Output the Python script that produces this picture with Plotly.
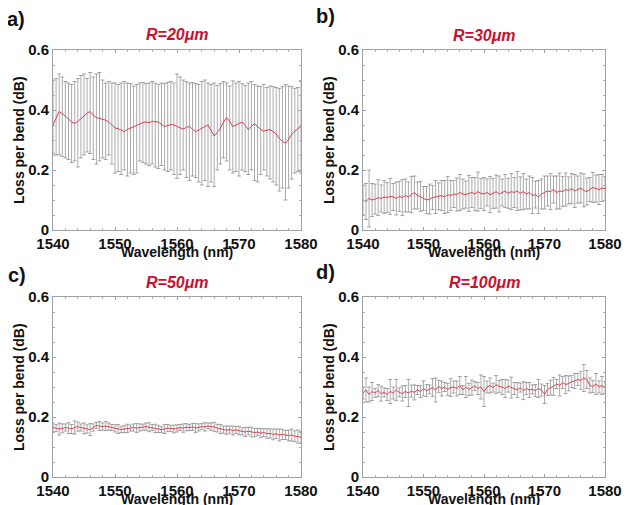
import plotly.graph_objects as go
from plotly.subplots import make_subplots

# wavelength grid (nm), one error bar every 0.5 nm
wavelength = [1540 + 0.5 * i for i in range(81)]

# R = 20 um : mean loss and upper / lower bounds of the error bars
mean_a = [0.350, 0.375, 0.395, 0.388, 0.380, 0.370, 0.360, 0.355, 0.362, 0.370,
          0.380, 0.390, 0.395, 0.383, 0.375, 0.372, 0.370, 0.366, 0.360, 0.350,
          0.340, 0.338, 0.332, 0.328, 0.335, 0.340, 0.345, 0.350, 0.355, 0.358,
          0.360, 0.358, 0.362, 0.360, 0.360, 0.352, 0.345, 0.348, 0.352, 0.350,
          0.345, 0.340, 0.336, 0.342, 0.345, 0.336, 0.328, 0.333, 0.340, 0.345,
          0.350, 0.330, 0.313, 0.325, 0.340, 0.360, 0.375, 0.362, 0.345, 0.350,
          0.355, 0.360, 0.348, 0.335, 0.345, 0.355, 0.345, 0.335, 0.330, 0.333,
          0.335, 0.328, 0.320, 0.305, 0.295, 0.289, 0.302, 0.320, 0.330, 0.338,
          0.345]
upper_a = [0.500, 0.505, 0.520, 0.510, 0.495, 0.490, 0.485, 0.495, 0.505, 0.515,
           0.520, 0.505, 0.525, 0.510, 0.520, 0.525, 0.500, 0.490, 0.495, 0.490,
           0.490, 0.485, 0.490, 0.495, 0.490, 0.488, 0.480, 0.485, 0.490, 0.492,
           0.488, 0.490, 0.495, 0.490, 0.485, 0.490, 0.488, 0.492, 0.495, 0.490,
           0.520, 0.510, 0.500, 0.495, 0.490, 0.492, 0.488, 0.485, 0.495, 0.500,
           0.490, 0.485, 0.490, 0.482, 0.488, 0.495, 0.490, 0.480, 0.497, 0.490,
           0.495, 0.488, 0.482, 0.490, 0.495, 0.485, 0.480, 0.478, 0.485, 0.475,
           0.480, 0.478, 0.475, 0.472, 0.478, 0.485, 0.480, 0.478, 0.472, 0.475,
           0.495]
lower_a = [0.255, 0.250, 0.250, 0.245, 0.240, 0.235, 0.225, 0.230, 0.210, 0.240,
           0.250, 0.260, 0.255, 0.235, 0.220, 0.230, 0.240, 0.235, 0.250, 0.220,
           0.190, 0.195, 0.185, 0.200, 0.180, 0.190, 0.185, 0.190, 0.230, 0.225,
           0.220, 0.215, 0.220, 0.210, 0.205, 0.215, 0.200, 0.195, 0.200, 0.185,
           0.172, 0.185, 0.200, 0.175, 0.165, 0.180, 0.175, 0.160, 0.150, 0.165,
           0.145, 0.160, 0.145, 0.200, 0.220, 0.240, 0.230, 0.200, 0.190, 0.195,
           0.180, 0.200, 0.195, 0.185, 0.200, 0.165, 0.160, 0.185, 0.200, 0.180,
           0.170, 0.160, 0.150, 0.130, 0.140, 0.100, 0.140, 0.170, 0.190, 0.195,
           0.190]

# R = 30 um
mean_b = [0.100, 0.095, 0.105, 0.100, 0.103, 0.108, 0.105, 0.110, 0.108, 0.112,
          0.110, 0.105, 0.112, 0.108, 0.115, 0.110, 0.118, 0.125, 0.115, 0.112,
          0.105, 0.100, 0.103, 0.108, 0.110, 0.112, 0.115, 0.110, 0.118, 0.115,
          0.120, 0.118, 0.125, 0.120, 0.118, 0.122, 0.125, 0.120, 0.128, 0.122,
          0.120, 0.125, 0.118, 0.122, 0.128, 0.120, 0.125, 0.130, 0.122, 0.128,
          0.125, 0.130, 0.122, 0.128, 0.120, 0.125, 0.115, 0.118, 0.110, 0.120,
          0.125, 0.130, 0.128, 0.135, 0.125, 0.130, 0.128, 0.135, 0.132, 0.138,
          0.130, 0.135, 0.140, 0.132, 0.128, 0.135, 0.142, 0.138, 0.135, 0.140,
          0.138]
err_b = [0.050, 0.060, 0.095, 0.055, 0.050, 0.060, 0.045, 0.055, 0.050, 0.060,
         0.045, 0.055, 0.050, 0.060, 0.055, 0.050, 0.060, 0.055, 0.045, 0.050,
         0.040, 0.045, 0.050, 0.040, 0.055, 0.045, 0.050, 0.055, 0.060, 0.050,
         0.045, 0.055, 0.060, 0.050, 0.045, 0.060, 0.050, 0.055, 0.065, 0.050,
         0.055, 0.045, 0.060, 0.050, 0.055, 0.060, 0.045, 0.055, 0.050, 0.060,
         0.050, 0.065, 0.055, 0.060, 0.050, 0.055, 0.060, 0.045, 0.055, 0.050,
         0.055, 0.050, 0.060, 0.045, 0.055, 0.060, 0.050, 0.055, 0.045, 0.050,
         0.055, 0.045, 0.050, 0.055, 0.045, 0.040, 0.050, 0.045, 0.050, 0.045,
         0.040]

# R = 50 um
mean_c = [0.165, 0.163, 0.160, 0.162, 0.165, 0.163, 0.160, 0.165, 0.168, 0.165,
          0.162, 0.160, 0.158, 0.165, 0.172, 0.170, 0.168, 0.170, 0.168, 0.165,
          0.162, 0.160, 0.158, 0.160, 0.162, 0.163, 0.165, 0.163, 0.165, 0.166,
          0.168, 0.166, 0.165, 0.162, 0.160, 0.158, 0.160, 0.163, 0.162, 0.160,
          0.162, 0.165, 0.163, 0.166, 0.165, 0.167, 0.163, 0.165, 0.168, 0.167,
          0.170, 0.168, 0.167, 0.163, 0.160, 0.158, 0.156, 0.158, 0.155, 0.157,
          0.155, 0.152, 0.150, 0.153, 0.150, 0.148, 0.150, 0.146, 0.148, 0.145,
          0.145, 0.142, 0.144, 0.140, 0.142, 0.140, 0.138, 0.140, 0.136, 0.135,
          0.132]
err_c = [0.015, 0.012, 0.020, 0.015, 0.012, 0.018, 0.015, 0.022, 0.015, 0.012,
         0.018, 0.014, 0.020, 0.012, 0.010, 0.015, 0.012, 0.015, 0.012, 0.010,
         0.012, 0.015, 0.010, 0.012, 0.014, 0.010, 0.012, 0.015, 0.012, 0.010,
         0.012, 0.015, 0.010, 0.014, 0.012, 0.010, 0.015, 0.012, 0.010, 0.013,
         0.012, 0.010, 0.014, 0.012, 0.010, 0.012, 0.015, 0.012, 0.010, 0.014,
         0.010, 0.012, 0.015, 0.013, 0.015, 0.012, 0.014, 0.012, 0.015, 0.012,
         0.014, 0.012, 0.015, 0.013, 0.016, 0.014, 0.012, 0.015, 0.013, 0.016,
         0.015, 0.018, 0.016, 0.020, 0.017, 0.015, 0.018, 0.020, 0.018, 0.022,
         0.020]

# R = 100 um
mean_d = [0.280, 0.290, 0.275, 0.285, 0.280, 0.288, 0.278, 0.282, 0.275, 0.285,
          0.280, 0.290, 0.282, 0.278, 0.285, 0.280, 0.286, 0.282, 0.290, 0.285,
          0.295, 0.288, 0.292, 0.298, 0.290, 0.302, 0.295, 0.300, 0.292, 0.298,
          0.300, 0.295, 0.305, 0.290, 0.300, 0.292, 0.298, 0.303, 0.295, 0.300,
          0.285, 0.300, 0.305, 0.298, 0.308, 0.302, 0.300, 0.295, 0.303, 0.298,
          0.295, 0.290, 0.298, 0.288, 0.295, 0.290, 0.292, 0.288, 0.295, 0.290,
          0.275, 0.292, 0.298, 0.302, 0.310, 0.305, 0.315, 0.308, 0.312, 0.318,
          0.320, 0.325, 0.322, 0.330, 0.325, 0.305, 0.302, 0.310, 0.300, 0.305,
          0.298]
err_d = [0.020, 0.040, 0.025, 0.030, 0.015, 0.020, 0.025, 0.015, 0.020, 0.040,
         0.020, 0.035, 0.015, 0.025, 0.020, 0.045, 0.020, 0.025, 0.015, 0.020,
         0.025, 0.020, 0.015, 0.030, 0.040, 0.020, 0.025, 0.015, 0.020, 0.030,
         0.020, 0.025, 0.030, 0.015, 0.035, 0.020, 0.025, 0.015, 0.020, 0.040,
         0.050, 0.020, 0.025, 0.015, 0.030, 0.020, 0.025, 0.030, 0.020, 0.035,
         0.020, 0.025, 0.015, 0.030, 0.020, 0.025, 0.015, 0.020, 0.030, 0.020,
         0.030, 0.020, 0.025, 0.030, 0.015, 0.035, 0.020, 0.030, 0.025, 0.020,
         0.025, 0.020, 0.030, 0.045, 0.030, 0.025, 0.020, 0.035, 0.020, 0.030,
         0.020]

panel_titles = ["R=20μm", "R=30μm", "R=50μm", "R=100μm"]
panel_letters = ["a)", "b)", "c)", "d)"]
x_ticks = [1540, 1550, 1560, 1570, 1580]
y_ticks = [0, 0.2, 0.4, 0.6]
y_tick_text = ["0", "0.2", "0.4", "0.6"]

OFF = 8  # the page body adds an 8px margin, so shift everything back by it
W, H = 630 - OFF, 505 - OFF
FONT = "Liberation Sans, Arial, sans-serif"
RED = "#c8102e"

# plot-area boxes in screen pixels: (left, right, top, bottom)
# (right column a little narrower so its last tick label stays on screen)
boxes = [(53, 301, 50, 230), (363, 605, 50, 230),
         (53, 301, 297, 477), (363, 605, 297, 477)]
# (letter x, letter y, title y) in screen pixels
label_pos = [(5, 19, 34), (314, 16, 35), (6, 275, 282), (314, 272, 282)]


def px(x):
    return (x - OFF) / W


def py(y):
    return 1 - (y - OFF) / H


fig = make_subplots(rows=2, cols=2)

up_a = [u - m for u, m in zip(upper_a, mean_a)]
down_a = [m - l for m, l in zip(mean_a, lower_a)]
series = [
    (mean_a, up_a, down_a),
    (mean_b, err_b, err_b),
    (mean_c, err_c, err_c),
    (mean_d, err_d, err_d),
]

for i, (mean, eplus, eminus) in enumerate(series):
    r, c = i // 2 + 1, i % 2 + 1
    fig.add_trace(go.Scatter(
        x=wavelength, y=mean, mode="lines",
        line=dict(color="#d9414f", width=1),
        error_y=dict(type="data", symmetric=False, array=eplus, arrayminus=eminus,
                     color="#707070", thickness=0.6, width=2),
        showlegend=False), row=r, col=c)

tick_font = dict(family=FONT, size=15, color="#111", weight="bold")
annotations = []
for i, (l, rr, t, b) in enumerate(boxes):
    n = "" if i == 0 else str(i + 1)
    fig.layout["xaxis" + n].update(
        domain=[px(l), px(rr)], range=[1540, 1580], tickvals=x_ticks,
        showline=True, mirror="ticks", linecolor="#a0a0a0", linewidth=1,
        ticks="inside", ticklen=3, tickcolor="#a0a0a0",
        minor=dict(ticks="inside", ticklen=2, dtick=2, tickcolor="#b0b0b0"),
        showgrid=False, zeroline=False, automargin=False, tickfont=tick_font,
        ticklabeloverflow="allow")
    fig.layout["yaxis" + n].update(
        domain=[py(b), py(t)], range=[0, 0.6], tickvals=y_ticks,
        ticktext=y_tick_text,
        showline=True, mirror="ticks", linecolor="#a0a0a0", linewidth=1,
        ticks="inside", ticklen=3, tickcolor="#a0a0a0",
        minor=dict(ticks="inside", ticklen=2, dtick=0.05, tickcolor="#b0b0b0"),
        showgrid=False, zeroline=False, automargin=False, tickfont=tick_font)
    cx = (l + rr) / 2
    lx, ly, ty = label_pos[i]
    annotations.append(dict(x=px(cx), y=py(ty), xref="paper", yref="paper",
                            xanchor="center", yanchor="middle",
                            text="<b><i>" + panel_titles[i] + "</i></b>", showarrow=False,
                            font=dict(family=FONT, size=16, color=RED)))
    annotations.append(dict(x=px(lx), y=py(ly), xref="paper", yref="paper",
                            xanchor="left", yanchor="middle",
                            text="<b>" + panel_letters[i] + "</b>",
                            showarrow=False, font=dict(family=FONT, size=20, color="#111")))
    annotations.append(dict(x=px(cx), y=py(b + 22), xref="paper", yref="paper",
                            xanchor="center", yanchor="middle",
                            text="<b>Wavelength (nm)</b>", showarrow=False,
                            font=dict(family=FONT, size=14, color="#111")))
    annotations.append(dict(x=px(l - 34), y=py((t + b) / 2), xref="paper",
                            yref="paper", xanchor="center", yanchor="middle",
                            text="<b>Loss per bend (dB)</b>", textangle=-90,
                            showarrow=False, font=dict(family=FONT, size=14, color="#111")))

fig.update_layout(
    width=W, height=H, margin=dict(l=0, r=0, t=0, b=0),
    paper_bgcolor="white", plot_bgcolor="white",
    annotations=annotations)

fig.write_html("out.html")
